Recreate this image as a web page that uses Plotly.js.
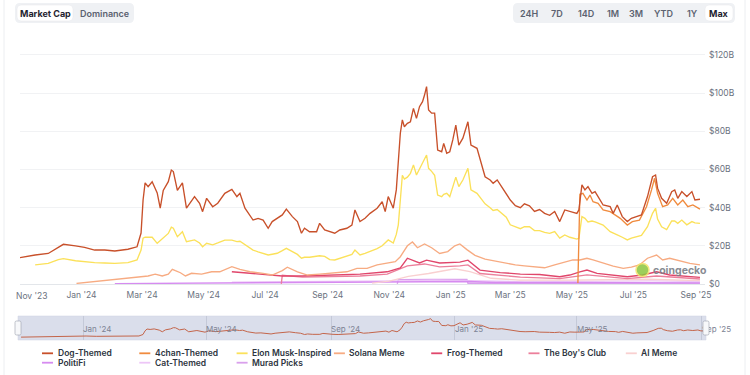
<!DOCTYPE html>
<html><head><meta charset="utf-8">
<script src="https://cdn.plot.ly/plotly-3.0.1.min.js"></script>
<style>html,body{margin:0;padding:0;background:#fff}#chart{width:750px;height:375px}</style>
</head><body><div id="chart"></div>
<script>
// ---------------- DATA (values in $ billions) ----------------
const mainDates = ['2023-11-01','2023-11-16','2023-11-29','2023-12-09','2023-12-14','2023-12-26','2024-01-04','2024-01-14','2024-01-24','2024-02-03','2024-02-16','2024-02-25','2024-02-29','2024-03-02','2024-03-04','2024-03-07','2024-03-11','2024-03-16','2024-03-19','2024-03-22','2024-03-27','2024-03-30','2024-04-01','2024-04-05','2024-04-10','2024-04-14','2024-04-22','2024-04-27','2024-04-30','2024-05-04','2024-05-10','2024-05-15','2024-05-22','2024-05-29','2024-06-03','2024-06-06','2024-06-11','2024-06-19','2024-06-24','2024-06-29','2024-07-04','2024-07-08','2024-07-13','2024-07-18','2024-07-22','2024-07-28','2024-08-02','2024-08-06','2024-08-09','2024-08-14','2024-08-21','2024-08-24','2024-08-29','2024-09-03','2024-09-08','2024-09-13','2024-09-20','2024-09-25','2024-09-28','2024-10-03','2024-10-08','2024-10-13','2024-10-20','2024-10-25','2024-10-28','2024-10-31','2024-11-05','2024-11-08','2024-11-10','2024-11-12','2024-11-14','2024-11-16','2024-11-19','2024-11-22','2024-11-25','2024-11-28','2024-12-01','2024-12-04','2024-12-06','2024-12-08','2024-12-10','2024-12-13','2024-12-16','2024-12-19','2024-12-23','2024-12-25','2024-12-28','2024-12-31','2025-01-03','2025-01-06','2025-01-09','2025-01-13','2025-01-18','2025-01-21','2025-01-27','2025-01-30','2025-02-04','2025-02-09','2025-02-12','2025-02-16','2025-02-21','2025-02-25','2025-03-01','2025-03-06','2025-03-11','2025-03-15','2025-03-20','2025-03-25','2025-03-30','2025-04-04','2025-04-09','2025-04-14','2025-04-19','2025-04-24','2025-04-29','2025-05-06','2025-05-08','2025-05-11','2025-05-14','2025-05-17','2025-05-21','2025-05-24','2025-05-27','2025-06-01','2025-06-08','2025-06-11','2025-06-15','2025-06-20','2025-06-25','2025-06-29','2025-07-04','2025-07-09','2025-07-15','2025-07-20','2025-07-23','2025-07-25','2025-07-29','2025-08-03','2025-08-08','2025-08-11','2025-08-14','2025-08-18','2025-08-23','2025-08-28','2025-08-31','2025-09-05'];

const dogThemed = [13.8,15.2,16.0,19.5,20.8,20.0,19.2,17.8,17.8,17.3,
18.2,19.5,26.7,44,53,51,53.6,47.7,39.8,49,
53.6,59.7,58.9,49,53,39.8,45.8,42.3,37.9,44.9,
40.5,42.3,47.5,49.6,45.8,47.5,39.7,33.5,34.4,33.5,
29.2,32.7,34.4,36.2,39.2,35.3,32.7,26.6,29.2,27.4,
27.4,31.8,28.3,27.4,26.6,28.3,29.2,30.9,38.8,32.7,
34.4,37.0,39.7,43.1,37.9,45.8,39.7,49.3,62,79,
86,82.4,84.2,85,92,86.8,92.9,95.5,99,103.4,
91.2,89.5,89.5,70.2,69.3,73.7,68.5,69.3,75.5,83.3,
72.8,76.4,85,72.8,71.1,65,56.2,54.5,52.8,54.5,
50.2,47.5,44,41,40,42,41,38,39,37,
36,38,32.7,38.8,37.9,37,38.8,51.9,49.3,51,
47.5,48.4,45.8,41.4,40.5,37,41.4,35.3,32.7,34.4,
35.3,36.2,45.8,56.2,57.1,50.2,44.9,42.3,48.4,49.3,
44.9,48.4,45.8,48.4,44,44.4];

const elonMuskInspired = [null,10,10.8,12.8,13.3,12.2,11.6,11.2,11.0,10.8,
11.2,12.6,17.8,24,24.5,24.5,24.5,21.3,22.8,24.3,
26.5,29.8,29.2,24.8,27.4,22.2,23.1,21.5,19.5,21.3,
20.5,21.5,23,23,22.2,22.4,20.8,17.8,16.8,15.8,
15.2,15.6,16.1,17.5,18.7,17,15.5,13.5,14,14,
14.3,14.8,14.5,12.8,12.6,13.5,14.7,15.5,17.8,15.2,
16,16.9,18.5,20,21.5,23.1,21.5,26,31,45,
57,55,56,58,62.4,57.1,60.6,64.1,65.5,67.6,
60.6,59,57,46.6,45.8,47,47.5,45.8,51,56,
51,54.5,60.6,49.3,47.5,45.5,42,40,38.5,39,
36.5,35,31,30,29,30,30,28,28,27,
26.5,27.5,24,25.7,24.5,23.5,24,35.3,34.4,32.5,
33,32.5,31.8,30.9,27.4,26.5,25.7,24.5,23.1,24,
24.8,25.5,30,37,39.7,34,30,28.5,33,33,
31.8,33.5,31,32.7,32,31.8];

const fourChanDates = ['2025-05-07','2025-05-09','2025-05-12','2025-05-16','2025-05-19','2025-05-22','2025-05-27','2025-06-01','2025-06-08','2025-06-13','2025-06-18','2025-06-25','2025-06-30','2025-07-07','2025-07-14','2025-07-19','2025-07-22','2025-07-25','2025-07-30','2025-08-04','2025-08-09','2025-08-14','2025-08-19','2025-08-24','2025-08-29','2025-09-05'];
const fourChanThemed = [0.5,47,47.5,44,46.6,43.1,42.3,38.8,37.9,36.2,34.4,30.9,32.7,33.5,40.5,49.3,55.4,47.5,40.5,41.4,44.9,41.4,44,40.5,41.4,39.2];

const solanaDates = ['2023-12-27','2024-03-07','2024-03-14','2024-03-21','2024-03-27','2024-03-31','2024-04-03','2024-04-08','2024-04-13','2024-04-19','2024-04-29','2024-05-09','2024-05-17','2024-05-29','2024-06-06','2024-06-16','2024-06-29','2024-07-08','2024-07-18','2024-07-23','2024-08-02','2024-08-12','2024-08-24','2024-09-06','2024-09-20','2024-09-30','2024-10-10','2024-10-20','2024-10-30','2024-11-07','2024-11-12','2024-11-15','2024-11-19','2024-11-24','2024-11-29','2024-12-06','2024-12-13','2024-12-21','2024-12-29','2025-01-05','2025-01-10','2025-01-17','2025-01-25','2025-02-04','2025-02-14','2025-02-24','2025-03-06','2025-03-15','2025-03-25','2025-04-04','2025-04-14','2025-04-19','2025-04-26','2025-05-02','2025-05-09','2025-05-16','2025-05-22','2025-06-01','2025-06-11','2025-06-21','2025-06-29','2025-07-07','2025-07-15','2025-07-24','2025-07-30','2025-08-06','2025-08-13','2025-08-19','2025-08-26','2025-09-05'];
const solanaMeme = [0.3,4.2,5.2,4.2,5.2,7.7,7,5.9,4.2,5.6,5.2,6.4,6.4,9.1,7.7,6.4,5.6,4.7,7,8.8,6.4,4.7,5.2,5.6,6.4,8.2,8.2,10,10.8,11.7,14.3,17,20,22,19,21,19,16,17,20,21,18,15,13,12,11,10,9.5,9,8.5,10,10.8,11.7,12.6,12.6,13.5,12.6,10.8,9.4,8.2,8.8,10,13.5,15.2,12.6,13.5,12.6,11.7,10.8,10];

const frogDates = ['2024-05-29','2024-06-16','2024-07-18','2024-08-07','2024-09-06','2024-10-03','2024-10-30','2024-11-12','2024-11-19','2024-12-01','2024-12-08','2024-12-21','2025-01-10','2025-01-18','2025-01-30','2025-02-19','2025-03-11','2025-03-30','2025-04-19','2025-04-29','2025-05-09','2025-05-16','2025-05-26','2025-06-08','2025-06-25','2025-07-10','2025-07-24','2025-08-06','2025-08-23','2025-09-05'];
const frogThemed = [6.4,5.6,4.2,4.2,4.7,5.2,6.4,8.4,13.5,11,12.5,11,11.5,12.5,7.3,6,5.2,5,3.8,4.7,6.4,7.3,5.6,4.7,3.8,4.7,6.4,4.7,3.8,3.5];

const boysClubDates = ['2024-07-17','2024-07-18','2024-08-07','2024-09-06','2024-10-03','2024-10-30','2024-11-19','2024-12-06','2024-12-21','2025-01-10','2025-01-18','2025-01-30','2025-03-11','2025-04-19','2025-05-16','2025-06-25','2025-07-24','2025-09-05'];
const boysClub = [0.1,4.6,3.6,3.8,4.2,5.2,9.5,10.5,9,9.5,10,5.5,3.6,2.8,4.8,2.8,4.2,2.6];

const aiMemeDates = ['2024-10-15','2024-11-01','2024-11-20','2024-12-10','2025-01-05','2025-01-20','2025-02-10','2025-03-10','2025-05-01','2025-07-15','2025-09-05'];
const aiMeme = [0.5,1.5,4,5.5,8,6.5,3,2,2,2.5,1.8];

const politiFiDates = ['2024-02-03','2024-04-10','2024-06-06','2024-07-17','2024-09-01','2024-11-10','2024-12-15','2025-01-18','2025-02-15','2025-04-15','2025-06-15','2025-09-05'];
const politiFi = [0.2,0.4,0.6,0.8,0.6,1.0,1.2,1.3,0.8,0.6,0.7,0.6];

const catDates = ['2024-05-29','2024-07-01','2024-09-01','2024-11-10','2024-12-15','2025-01-20','2025-03-15','2025-05-15','2025-07-20','2025-09-05'];
const catThemed = [1.0,1.1,1.0,1.6,2.0,1.8,1.1,1.4,1.6,1.3];

const muradDates = ['2024-11-09','2024-11-10','2024-12-10','2025-01-17','2025-01-18','2025-02-20','2025-04-15','2025-06-15','2025-07-20','2025-09-05'];
const muradPicks = [0.1,2.3,2.4,2.4,0.4,0.4,0.3,0.5,0.6,0.4];

const seriesNames = ['Dog-Themed','4chan-Themed','Elon Musk-Inspired','Solana Meme','Frog-Themed',"The Boy's Club",'AI Meme','PolitiFi','Cat-Themed','Murad Picks'];
const seriesColors = ['#c8502a','#f08b3e','#fbe15a','#f7ab82','#e0466b','#ec7f9b','#f9d0d0','#d68bf0','#edc6f7','#d9a0ec'];

const xTickDates = ['2023-11-01','2024-01-01','2024-03-01','2024-05-01','2024-07-01','2024-09-01','2024-11-01','2025-01-01','2025-03-01','2025-05-01','2025-07-01','2025-09-01'];
const xTickLabels = ["Nov '23","Jan '24","Mar '24","May '24","Jul '24","Sep '24","Nov '24","Jan '25","Mar '25","May '25","Jul '25","Sep '25"];
const navTickDates = ['2024-01-01','2024-05-01','2024-09-01','2025-01-01','2025-05-01','2025-09-01'];
const navTickLabels = ["Jan '24","May '24","Sep '24","Jan '25","May '25","Sep '25"];
const yTickVals = [0,20,40,60,80,100,120];
const yTickLabels = ['$0','$20B','$40B','$60B','$80B','$100B','$120B'];
const leftButtons = ['Market Cap','Dominance'];
const rangeButtons = ['24H','7D','14D','1M','3M','YTD','1Y','Max'];

// ---------------- CHART ----------------
const seriesX = [mainDates,fourChanDates,mainDates,solanaDates,frogDates,boysClubDates,aiMemeDates,politiFiDates,catDates,muradDates];
const seriesY = [dogThemed,fourChanThemed,elonMuskInspired,solanaMeme,frogThemed,boysClub,aiMeme,politiFi,catThemed,muradPicks];

const traces = [];
for (let i = seriesNames.length - 1; i >= 0; i--) {
  traces.push({type:'scatter',mode:'lines',name:seriesNames[i],x:seriesX[i],y:seriesY[i],
    line:{color:seriesColors[i],width:1.35},xaxis:'x',yaxis:'y',hoverinfo:'skip',showlegend:false});
}
traces.push({type:'scatter',mode:'lines',x:mainDates,y:dogThemed,xaxis:'x2',yaxis:'y2',
  line:{color:'#c4654a',width:1},hoverinfo:'skip',showlegend:false});

const L=18, R=706, T=50, B=340;
const PX = v => (v - L)/(R - L);
const PY = v => (B - v)/(B - T);
function rr(x0,y0,x1,y1,r){
  return `M${PX(x0+r)},${PY(y0)} L${PX(x1-r)},${PY(y0)} Q${PX(x1)},${PY(y0)} ${PX(x1)},${PY(y0+r)} L${PX(x1)},${PY(y1-r)} Q${PX(x1)},${PY(y1)} ${PX(x1-r)},${PY(y1)} L${PX(x0+r)},${PY(y1)} Q${PX(x0)},${PY(y1)} ${PX(x0)},${PY(y1-r)} L${PX(x0)},${PY(y0+r)} Q${PX(x0)},${PY(y0)} ${PX(x0+r)},${PY(y0)} Z`;
}

const shapes = [];
const annotations = [];
shapes.push({type:'line',xref:'paper',yref:'paper',x0:PX(4),x1:PX(4),y0:PY(0),y1:PY(375),line:{color:'#eceef1',width:1}});
shapes.push({type:'line',xref:'paper',yref:'paper',x0:PX(745),x1:PX(745),y0:PY(0),y1:PY(375),line:{color:'#eceef1',width:1}});
shapes.push({type:'path',xref:'paper',yref:'paper',path:rr(15,3,134,23,5),fillcolor:'#eff1f4',line:{width:0}});
shapes.push({type:'path',xref:'paper',yref:'paper',path:rr(17,5,73,21,4),fillcolor:'#ffffff',line:{color:'#e5e7eb',width:0.5}});
shapes.push({type:'path',xref:'paper',yref:'paper',path:rr(513,3,735,23,5),fillcolor:'#eff1f4',line:{width:0}});
shapes.push({type:'path',xref:'paper',yref:'paper',path:rr(705,5,733,21,4),fillcolor:'#ffffff',line:{color:'#e5e7eb',width:0.5}});
const leftCx = [45,104];
leftButtons.forEach((t,i)=>annotations.push({xref:'paper',yref:'paper',x:PX(leftCx[i]),y:PY(13.5),text:t,showarrow:false,xanchor:'center',yanchor:'middle',
  font:{family:'Inter, sans-serif',size:9,weight:i===0?700:600,color:i===0?'#1f2430':'#5b6270'}}));
const rangeCx = [529,557,586,613,636,663,692,719];
rangeButtons.forEach((t,i)=>annotations.push({xref:'paper',yref:'paper',x:PX(rangeCx[i]),y:PY(13.5),text:t,showarrow:false,xanchor:'center',yanchor:'middle',
  font:{family:'Inter, sans-serif',size:9,weight:i===rangeButtons.length-1?700:600,color:i===rangeButtons.length-1?'#1f2430':'#5b6270'}}));

// first x label shifted inward like the reference
annotations.push({xref:'x',yref:'paper',x:xTickDates[0],y:PY(296),xshift:12,text:xTickLabels[0],showarrow:false,xanchor:'center',yanchor:'middle',
  font:{family:'Inter, sans-serif',size:8.5,color:'#6b7280'}});

// navigator background + handles
shapes.push({type:'rect',xref:'x2 domain',yref:'y2 domain',x0:0,x1:1,y0:0,y1:1,fillcolor:'#dadeeb',line:{color:'#cdd2e0',width:0.5},layer:'below'});
shapes.push({type:'path',xref:'paper',yref:'paper',path:rr(15,321,21,335,1.5),fillcolor:'#f7f8fa',line:{color:'#9aa0ad',width:0.6}});
shapes.push({type:'path',xref:'paper',yref:'paper',path:rr(703,321,709,335,1.5),fillcolor:'#f7f8fa',line:{color:'#9aa0ad',width:0.6}});

// legend
seriesNames.forEach((n,i)=>{
  const col = i % 7, row = Math.floor(i/7);
  const sx = 42 + col*97.3, sy = 353.3 + row*9.4;
  shapes.push({type:'line',xref:'paper',yref:'paper',x0:PX(sx),x1:PX(sx+11),y0:PY(sy),y1:PY(sy),line:{color:seriesColors[i],width:1.8}});
  annotations.push({xref:'paper',yref:'paper',x:PX(sx+13.5),y:PY(sy),text:n,showarrow:false,xanchor:'left',yanchor:'middle',
    font:{family:'Inter, sans-serif',size:8.5,weight:600,color:'#2d3440'}});
});

// coingecko watermark
shapes.push({type:'circle',xref:'paper',yref:'paper',x0:PX(636),x1:PX(649),y0:PY(263.5),y1:PY(276.5),fillcolor:'#8cc63f',line:{color:'#f3e36b',width:1.5},opacity:0.85});
annotations.push({xref:'paper',yref:'paper',x:PX(651),y:PY(270),text:'coingecko',showarrow:false,xanchor:'left',yanchor:'middle',
  font:{family:'Inter, sans-serif',size:10.5,weight:700,color:'#7b8088'},opacity:0.9});

const tickTextMain = xTickLabels.map((t,i)=> i===0 ? '' : t);
const layout = {
  width:750,height:375,
  margin:{l:L,r:750-R,t:T,b:375-B,pad:0},
  paper_bgcolor:'#ffffff',plot_bgcolor:'rgba(0,0,0,0)',
  showlegend:false,
  font:{family:'Inter, sans-serif'},
  xaxis:{domain:[PX(20),PX(705)],range:['2023-11-01','2025-09-10'],type:'date',anchor:'y',
    tickvals:xTickDates,ticktext:tickTextMain,showgrid:false,zeroline:false,showline:true,linecolor:'#e3e6ea',linewidth:1,
    ticks:'',ticklabelstandoff:3,tickfont:{size:8.5,color:'#6b7280'},fixedrange:true},
  yaxis:{domain:[PY(284),1],range:[0,122.6],side:'right',anchor:'x',tickvals:yTickVals,ticktext:yTickLabels,
    showgrid:true,gridcolor:'#f1f2f4',gridwidth:1,zeroline:false,showline:false,ticks:'',
    tickfont:{size:8.5,color:'#6b7280'},ticklabelstandoff:3,fixedrange:true},
  xaxis2:{domain:[0,1],range:['2023-10-29','2025-09-05'],type:'date',anchor:'y2',
    tickvals:navTickDates,ticktext:navTickLabels,showgrid:true,gridcolor:'#c4c9d8',gridwidth:1,zeroline:false,showline:false,
    ticks:'',ticklabelposition:'inside right',ticklabeloverflow:'allow',tickfont:{size:8,color:'#7d8394'},fixedrange:true},
  yaxis2:{domain:[0,PY(316)],range:[0,116],anchor:'x2',showgrid:false,zeroline:false,showticklabels:false,ticks:'',fixedrange:true},
  shapes:shapes,annotations:annotations
};
Plotly.newPlot('chart',traces,layout,{displayModeBar:false,staticPlot:true});
</script></body></html>
